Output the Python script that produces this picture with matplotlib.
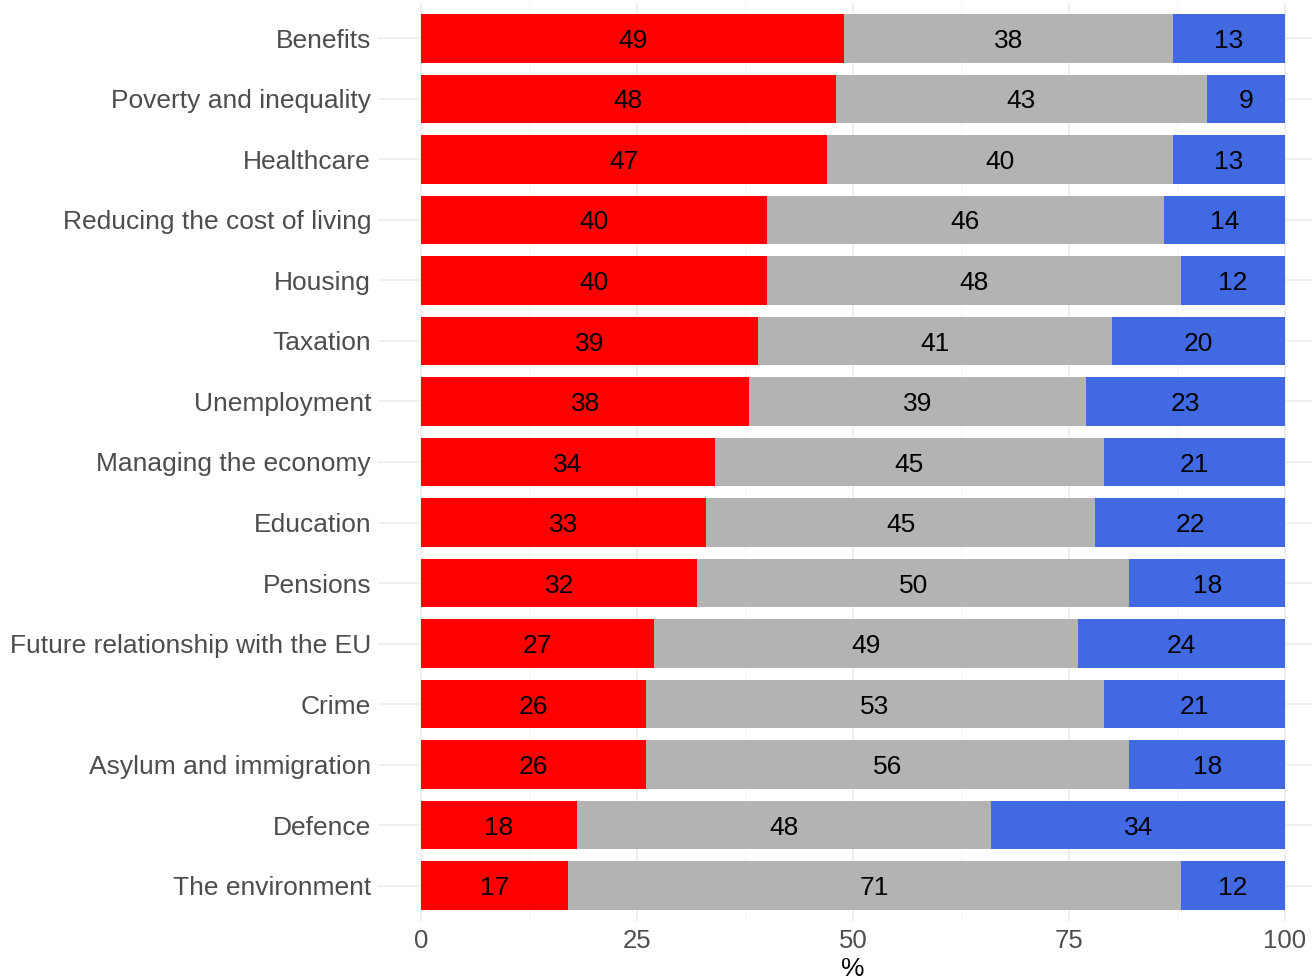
import matplotlib
matplotlib.use("Agg")
import matplotlib.pyplot as plt
import numpy as np

categories = ["Benefits", "Poverty and inequality", "Healthcare", "Reducing the cost of living",
              "Housing", "Taxation", "Unemployment", "Managing the economy", "Education",
              "Pensions", "Future relationship with the EU", "Crime", "Asylum and immigration",
              "Defence", "The environment"]
red_vals = [49, 48, 47, 40, 40, 39, 38, 34, 33, 32, 27, 26, 26, 18, 17]
grey_vals = [38, 43, 40, 46, 48, 41, 39, 45, 45, 50, 49, 53, 56, 48, 71]
blue_vals = [13, 9, 13, 14, 12, 20, 23, 21, 22, 18, 24, 21, 18, 34, 12]
x_ticks = [0, 25, 50, 75, 100]

plt.rcParams['font.family'] = ['Liberation Sans', 'DejaVu Sans']

W, H = 1312, 977
fig = plt.figure(figsize=(W / 100, H / 100), dpi=100)
left_px, right_px = 378, 1312
top_px, bottom_px = 2, 922
ax = fig.add_axes([left_px / W, 1 - bottom_px / H, (right_px - left_px) / W, (bottom_px - top_px) / H])

px_per_unit = (1285 - 421) / 100.0
xmin = -(421 - left_px) / px_per_unit
xmax = (right_px - 421) / px_per_unit
ax.set_xlim(xmin, xmax)
n = len(categories)
ax.set_ylim(n - 1 + 0.6, -0.6)

y = np.arange(n)
red = np.array(red_vals)
grey = np.array(grey_vals)
blue = np.array(blue_vals)
h = 0.8
colors = ["#FF0000", "#B3B3B3", "#4169E1"]
lefts = [np.zeros(n), red, red + grey]
for vals, lf, c in zip([red, grey, blue], lefts, colors):
    ax.barh(y, vals, left=lf, height=h, color=c, zorder=2)
    for yi, v, l in zip(y, vals, lf):
        ax.annotate(str(v), xy=(l + v / 2, yi), xytext=(0, -6.9), textcoords='offset points',
                    ha='center', va='baseline', fontsize=19, color='black', zorder=3)

ax.set_yticks(y)
ax.set_yticklabels(categories, fontsize=19, color='#4D4D4D')
ax.set_xticks(x_ticks)
ax.set_xticklabels([str(t) for t in x_ticks], fontsize=18.5, color='#4D4D4D')
ax.set_xticks([12.5, 37.5, 62.5, 87.5], minor=True)
ax.tick_params(axis='both', which='both', length=0)
ax.tick_params(axis='y', pad=5)
ax.tick_params(axis='x', pad=5)
ax.grid(True, which='major', color='#EBEBEB', linewidth=1.1, zorder=0)
ax.grid(True, which='minor', axis='x', color='#F2F2F2', linewidth=0.6, zorder=0)
ax.set_axisbelow(True)
for s in ax.spines.values():
    s.set_visible(False)
ax.set_xlabel("%", fontsize=19, color='black', labelpad=1)
ax.xaxis.set_label_coords((50 - xmin) / (xmax - xmin), -0.038)
ax.xaxis.label.set_va('top')

fig.savefig("out.png", dpi=100)
